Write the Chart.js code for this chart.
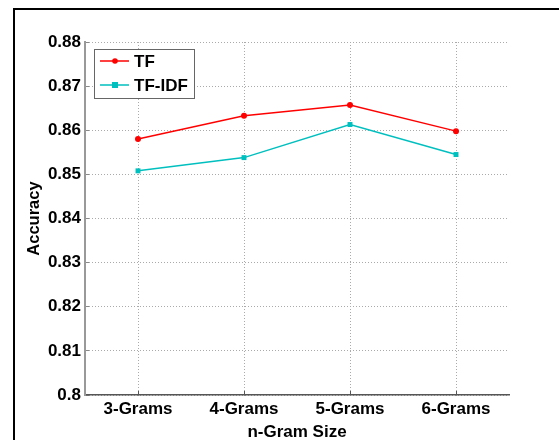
<!DOCTYPE html>
<html>
<head>
<meta charset="utf-8">
<script src="https://cdn.jsdelivr.net/npm/chart.js@4/dist/chart.umd.min.js"></script>
<style>
  html, body { margin: 0; padding: 0; background: #fff; }
  #wrap { position: relative; width: 559px; height: 440px; overflow: hidden; }
  canvas { display: block; }
</style>
</head>
<body>
<div id="wrap"><canvas id="c" width="559" height="440"></canvas></div>
<script>
const categories = ['3-Grams', '4-Grams', '5-Grams', '6-Grams'];
const tfValues = [0.8580, 0.8633, 0.8657, 0.8598];
const tfidfValues = [0.8508, 0.8538, 0.8613, 0.8545];
const seriesNames = ['TF', 'TF-IDF'];
const yTitle = 'Accuracy';
const xTitle = 'n-Gram Size';

const FONT = '"Liberation Sans", Arial, sans-serif';

const framePlugin = {
  id: 'frame',
  beforeDraw(chart) {
    const ctx = chart.ctx;
    ctx.save();
    ctx.fillStyle = '#fff';
    ctx.fillRect(0, 0, chart.width, chart.height);
    ctx.strokeStyle = '#000';
    ctx.lineWidth = 2;
    ctx.beginPath();
    ctx.moveTo(14, chart.height + 5);
    ctx.lineTo(14, 9);
    ctx.lineTo(chart.width + 5, 9);
    ctx.stroke();
    ctx.restore();
  }
};

const legendPlugin = {
  id: 'boxLegend',
  afterDatasetsDraw(chart) {
    const ctx = chart.ctx;
    const a = chart.chartArea;
    const x = a.left + 9, y = a.top + 7, w = 100, h = 49;
    ctx.save();
    ctx.fillStyle = '#fff';
    ctx.fillRect(x, y, w, h);
    ctx.strokeStyle = '#666';
    ctx.lineWidth = 1;
    ctx.strokeRect(x + 0.5, y + 0.5, w, h);
    chart.data.datasets.forEach((ds, i) => {
      const ry = y + 12 + i * 24;
      ctx.strokeStyle = ds.borderColor;
      ctx.lineWidth = ds.borderWidth;
      ctx.beginPath();
      ctx.moveTo(x + 6, ry);
      ctx.lineTo(x + 35, ry);
      ctx.stroke();
      ctx.fillStyle = ds.pointBackgroundColor;
      const mx = x + 21;
      if (ds.pointStyle === 'rect') {
        ctx.fillRect(mx - 3, ry - 3, 6, 6);
      } else {
        ctx.beginPath();
        ctx.arc(mx, ry, 2.8, 0, Math.PI * 2);
        ctx.fill();
      }
      ctx.fillStyle = '#000';
      ctx.font = 'bold 17px ' + FONT;
      ctx.textBaseline = 'middle';
      ctx.textAlign = 'left';
      ctx.fillText(ds.label, x + 40, ry + 1);
    });
    ctx.restore();
  }
};

new Chart(document.getElementById('c'), {
  type: 'line',
  data: {
    labels: categories,
    datasets: [
      {
        label: seriesNames[0],
        data: tfValues,
        borderColor: '#ff0000',
        backgroundColor: '#ff0000',
        pointBackgroundColor: '#ff0000',
        pointBorderColor: '#ff0000',
        borderWidth: 1.5,
        pointStyle: 'circle',
        pointRadius: 3,
        pointBorderWidth: 0,
        tension: 0
      },
      {
        label: seriesNames[1],
        data: tfidfValues,
        borderColor: '#00bfbf',
        backgroundColor: '#00bfbf',
        pointBackgroundColor: '#00bfbf',
        pointBorderColor: '#00bfbf',
        borderWidth: 1.5,
        pointStyle: 'rect',
        pointRadius: 3.5,
        pointBorderWidth: 0,
        tension: 0
      }
    ]
  },
  options: {
    responsive: false,
    animation: false,
    devicePixelRatio: 1,
    layout: { padding: { left: 0, top: 42, right: 50, bottom: 0 } },
    plugins: {
      legend: { display: false },
      tooltip: { enabled: false }
    },
    scales: {
      x: {
        type: 'category',
        offset: true,
        grid: {
          offset: false,
          color: '#aaaaaa',
          lineWidth: 1,
          drawTicks: true,
          tickLength: -4,
          tickColor: '#555555',
          tickWidth: 1,
          tickBorderDash: []
        },
        border: { display: true, color: '#555555', width: 1.5, dash: [1, 2] },
        ticks: {
          color: '#000',
          font: { family: FONT, size: 17, weight: 'bold' },
          padding: 8,
          maxRotation: 0
        },
        title: {
          display: true,
          text: xTitle,
          color: '#000',
          font: { family: FONT, size: 17, weight: 'bold' },
          padding: { top: 0, bottom: -3 }
        },
        afterFit(s) { s.height = 45; }
      },
      y: {
        type: 'linear',
        min: 0.80,
        max: 0.88,
        grid: {
          color: '#aaaaaa',
          lineWidth: 1,
          drawTicks: true,
          tickLength: -4,
          tickColor: '#888888',
          tickWidth: 1,
          tickBorderDash: []
        },
        border: { display: true, color: '#999999', width: 2, dash: [1, 2] },
        ticks: {
          stepSize: 0.01,
          color: '#000',
          font: { family: FONT, size: 17, weight: 'bold' },
          padding: 8,
          callback: (v) => {
            const r = Math.round(v * 100) / 100;
            return r === 0.8 ? '0.8' : r.toFixed(2);
          }
        },
        title: {
          display: true,
          text: yTitle,
          color: '#000',
          font: { family: FONT, size: 16.5, weight: 'bold' },
          padding: { top: 25, bottom: 0 }
        },
        afterFit(s) { s.width = 85; }
      }
    }
  },
  plugins: [framePlugin, legendPlugin]
});
</script>
</body>
</html>
